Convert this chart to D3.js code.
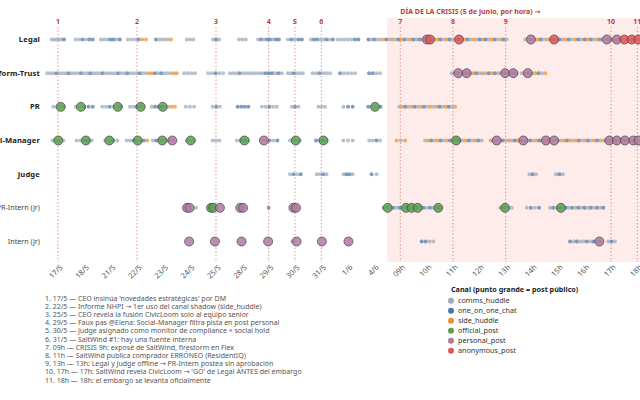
<!DOCTYPE html>
<html>
<head>
<meta charset="utf-8">
<script src="https://cdn.jsdelivr.net/npm/d3@7"></script>
<style>
  body { margin: 0; background: #fff; }
  text { font-family: "Noto Sans", "DejaVu Sans", sans-serif; }
</style>
</head>
<body>
<script>
var w = 640;
var h = 400;

// x slots: days before the crisis, then hours on 5 June
var slots = ["17/5","18/5","21/5","22/5","23/5","24/5","25/5","28/5","29/5","30/5","31/5","1/6","4/6",
             "09h","10h","11h","12h","13h","14h","15h","16h","17h","18h"];
var rows = ["Legal","Platform-Trust","PR","Social-Manager","Judge","PR-Intern (jr)","Intern (jr)"];
var juniors = ["PR-Intern (jr)","Intern (jr)"];

var channels = ["comms_huddle","one_on_one_chat","side_huddle","official_post","personal_post","anonymous_post"];
var channelCodes = ["c","o","s","f","p","a"];
var channelColors = ["#9ea9b9","#4e79a7","#f28e2b","#59a14f","#b07aa1","#e15759"];

// milestone: slot index + note
var eventSlots = [0, 3, 6, 8, 9, 10, 13, 15, 17, 21, 22];
var eventNotes = [
  "17/5 — CEO insinúa 'novedades estratégicas' por DM",
  "22/5 — Informe NHPI → 1er uso del canal shadow (side_huddle)",
  "25/5 — CEO revela la fusión CivicLoom solo al equipo senior",
  "29/5 — Faux pas @Elena: Social-Manager filtra pista en post personal",
  "30/5 — Judge asignado como monitor de compliance + social hold",
  "31/5 — SaltWind #1: hay una fuente interna",
  "09h — CRISIS 9h: exposé de SaltWind, firestorm en Flex",
  "11h — SaltWind publica comprador ERRÓNEO (ResidentIQ)",
  "13h — 13h: Legal y Judge offline → PR-Intern postea sin aprobación",
  "17h — 17h: SaltWind revela CivicLoom → 'GO' de Legal ANTES del embargo",
  "18h — 18h: el embargo se levanta oficialmente"
];

// private chatter: [from slot, to slot, one code per message in order]
var legalChat = [
  [-0.24, 0.23, "ccccco"], [0.67, 1.32, "ccocoo"], [1.63, 2.35, "cccooco"], [2.65, 3.34, "cccoss"],
  [3.72, 4.29, "occccs"], [4.89, 5.14, "ccc"], [5.89, 6.12, "coc"], [6.87, 7.13, "ccc"],
  [7.6, 8.39, "cocoocoo"], [8.73, 9.26, "cocoo"], [9.6, 10.44, "cooccoco"], [10.62, 11.41, "cccccoo"],
  [11.79, 17.04, "ococcsocscosocsocoscsocsocsocsocsocscosocsocsoc"],
  [17.74, 19.76, "csocsocscosocsocso"], [19.89, 22.1, "cosocsocsocsoscsocso"]
];
var platformChat = [
  [-0.41, 4.51, "cccocccocccoccocccoccccoccocccoccssococccss"], [4.79, 5.2, "cccc"], [5.7, 6.27, "ccocc"],
  [6.53, 8.5, "cccocccccccooococ"], [8.73, 9.3, "ccoccc"], [9.67, 10.33, "ccoccc"], [10.71, 11.28, "occcc"],
  [11.81, 12.23, "oocc"], [14.95, 17.42, "csocsocsocscosocsocsoc"], [17.61, 18.5, "csocsocs"]
];
var prChat = [
  [-0.18, 0.23, "cccc"], [0.68, 1.32, "ccooo"], [1.68, 2.39, "ccocco"], [2.73, 3.24, "ccocs"],
  [3.56, 4.44, "coooccss"], [4.85, 5.17, "ccc"], [5.87, 6.15, "coc"], [6.82, 7.23, "oooo"],
  [7.74, 8.31, "ccocc"], [8.88, 9.13, "coc"], [9.89, 10.14, "ccc"], [10.84, 11.19, "coo"],
  [11.78, 12.25, "occo"], [12.96, 15.08, "csocsocsocscsocsocs"]
];
var socialChat = [
  [-0.2, 0.2, "cccc"], [0.71, 1.28, "ccooc"], [1.79, 2.25, "ccoc"], [2.61, 3.39, "ccoccos"],
  [3.6, 4.38, "cocccoc"], [4.89, 5.17, "ccc"], [5.87, 6.13, "ccc"], [6.79, 7.23, "cooc"],
  [7.74, 8.33, "ccoco"], [8.81, 9.19, "cccc"], [9.8, 10.2, "ococ"], [10.84, 11.19, "ccc"],
  [11.82, 12.23, "ccoc"], [12.86, 13.18, "scs"], [13.94, 16.09, "csocsocsocsocsocsoc"],
  [16.43, 22.1, "socsocscosocsocsocsocsocsoscsocsocsocsocsocsocsocs"]
];
var judgeChat = [
  [8.81, 9.22, "coco"], [9.83, 10.2, "ccoc"], [10.84, 11.19, "cooc"], [11.91, 12.1, "oc"],
  [17.9, 18.15, "coc"], [18.91, 19.17, "coc"]
];
var prInternChat = [
  [5.0, 5.24, "cc"], [8.0, 8.0, "o"], [12.35, 14.51, "cococococoocococoo"], [16.79, 17.23, "cocc"],
  [17.8, 18.27, "coco"], [18.69, 20.71, "cococococococococo"]
];
var internChat = [
  [8.9, 8.9, "c"], [13.81, 14.25, "oocc"], [19.45, 20.59, "ococcococo"], [20.9, 21.15, "coc"]
];

// public posts (big dots): [slot, code]
var legalPosts = [[14.01,"p"],[14.13,"a"],[15.23,"a"],[17.96,"p"],[18.84,"a"],[20.84,"p"],[21.22,"p"],[21.51,"a"],[21.79,"a"],[22.04,"a"]];
var platformPosts = [[15.2,"p"],[15.52,"p"],[16.98,"p"],[17.29,"p"],[17.84,"p"]];
var prPosts = [[0.1,"f"],[0.87,"f"],[2.27,"f"],[3.14,"f"],[3.98,"f"],[12.04,"f"]];
var socialPosts = [[0.01,"f"],[1.06,"f"],[1.95,"f"],[3.03,"f"],[3.96,"f"],[4.34,"p"],[5.04,"f"],[7.08,"f"],[7.82,"p"],
  [9.03,"f"],[10.08,"f"],[15.12,"f"],[16.66,"p"],[17.67,"p"],[18.53,"p"],[18.84,"p"],[20.94,"p"],[21.22,"p"],
  [21.53,"p"],[21.85,"p"],[22.05,"p"]];
var judgePosts = [];
var prInternPosts = [[4.9,"p"],[5.0,"p"],[5.81,"f"],[5.9,"f"],[6.15,"p"],[6.92,"p"],[7.03,"p"],[8.94,"p"],[9.04,"p"],
  [12.52,"f"],[13.21,"f"],[13.43,"f"],[13.66,"f"],[14.44,"f"],[16.98,"f"],[19.1,"f"]];
var internPosts = [[4.98,"p"],[5.96,"p"],[6.97,"p"],[7.98,"p"],[9.06,"p"],[10.02,"p"],[11.03,"p"],[20.56,"p"]];

var chatByRow = [legalChat, platformChat, prChat, socialChat, judgeChat, prInternChat, internChat];
var postsByRow = [legalPosts, platformPosts, prPosts, socialPosts, judgePosts, prInternPosts, internPosts];

var x = d3.scaleLinear().domain([0, 22]).range([58, 637.3]);
var y = d3.scalePoint().domain(rows).range([39.5, 241.5]);
var color = d3.scaleOrdinal().domain(channelCodes).range(channelColors);

var svg = d3.select("body").append("svg")
  .attr("width", w)
  .attr("height", h);

// crisis band
svg.append("rect")
  .attr("x", x(12.5))
  .attr("y", 18)
  .attr("width", x(22.5) - x(12.5) + 20)
  .attr("height", 244)
  .attr("fill", "#fdecea");

svg.append("text")
  .attr("x", x(13))
  .attr("y", 14)
  .attr("font-size", 7)
  .attr("font-weight", "bold")
  .attr("fill", "#b8403a")
  .text("DÍA DE LA CRISIS (5 de junio, por hora) →");

// milestones
svg.selectAll(".evline")
  .data(eventSlots)
  .enter().append("line")
  .attr("class", "evline")
  .attr("x1", function(d) { return x(d); })
  .attr("x2", function(d) { return x(d); })
  .attr("y1", 27)
  .attr("y2", 262)
  .attr("stroke", "#e08a86")
  .attr("stroke-width", 0.9)
  .attr("stroke-dasharray", "1.5,2");

svg.selectAll(".evnum")
  .data(eventSlots)
  .enter().append("text")
  .attr("class", "evnum")
  .attr("x", function(d) { return x(d); })
  .attr("y", 24)
  .attr("text-anchor", "middle")
  .attr("font-size", 7)
  .attr("font-weight", "bold")
  .attr("fill", "#b8403a")
  .text(function(d, i) { return i + 1; });

// chatter dots
var small = [];
chatByRow.forEach(function(list, r) {
  list.forEach(function(run) {
    var n = run[2].length;
    for (var k = 0; k < n; k++) {
      var t = n > 1 ? run[0] + (run[1] - run[0]) * k / (n - 1) : run[0];
      small.push({ row: rows[r], t: t, c: run[2][k] });
    }
  });
});

svg.append("g").selectAll("circle")
  .data(small)
  .enter().append("circle")
  .attr("cx", function(d) { return x(d.t); })
  .attr("cy", function(d) { return y(d.row); })
  .attr("r", 2)
  .attr("fill", function(d) { return color(d.c); })
  .attr("fill-opacity", 0.72);

// public posts
var big = [];
postsByRow.forEach(function(list, r) {
  list.forEach(function(p) { big.push({ row: rows[r], t: p[0], c: p[1] }); });
});

svg.append("g").selectAll("circle")
  .data(big)
  .enter().append("circle")
  .attr("cx", function(d) { return x(d.t); })
  .attr("cy", function(d) { return y(d.row); })
  .attr("r", 4.5)
  .attr("fill", function(d) { return color(d.c); })
  .attr("fill-opacity", 0.85)
  .attr("stroke", "#444")
  .attr("stroke-width", 0.7);

// row labels
svg.append("g").selectAll("text")
  .data(rows)
  .enter().append("text")
  .attr("x", 40)
  .attr("y", function(d) { return y(d) + 2.6; })
  .attr("text-anchor", "end")
  .attr("font-size", function(d) { return juniors.indexOf(d) >= 0 ? 7.2 : 7.6; })
  .attr("letter-spacing", function(d) { return juniors.indexOf(d) >= 0 ? 0 : 0.15; })
  .attr("font-weight", function(d) { return juniors.indexOf(d) >= 0 ? "normal" : "bold"; })
  .attr("fill", function(d) { return juniors.indexOf(d) >= 0 ? "#444" : "#222"; })
  .text(function(d) { return d; });

// x axis
var axis = svg.append("g")
  .attr("transform", "translate(0,262)")
  .call(d3.axisBottom(x)
    .tickValues(d3.range(slots.length))
    .tickSize(0)
    .tickFormat(function(d) { return slots[d]; }));
axis.select(".domain").remove();
axis.selectAll("text")
  .attr("font-family", "Noto Sans, sans-serif")
  .attr("font-size", 7.5)
  .attr("fill", "#555")
  .attr("text-anchor", "end")
  .attr("transform", "rotate(-45)")
  .attr("dx", "-0.1em")
  .attr("dy", "0.6em");

// footnotes
svg.append("g").selectAll("text")
  .data(eventNotes)
  .enter().append("text")
  .attr("x", 45)
  .attr("y", function(d, i) { return 300.5 + i * 8.2; })
  .attr("font-size", 7)
  .attr("fill", "#555")
  .text(function(d, i) { return (i + 1) + ". " + d; });

// legend
var lg = svg.append("g").attr("transform", "translate(451,0)");
lg.append("text")
  .attr("x", 0)
  .attr("y", 292)
  .attr("font-size", 7.2)
  .attr("font-weight", "bold")
  .attr("fill", "#222")
  .text("Canal (punto grande = post público)");
lg.selectAll("circle")
  .data(channels)
  .enter().append("circle")
  .attr("cx", 0)
  .attr("cy", function(d, i) { return 300.7 + i * 10; })
  .attr("r", 3)
  .attr("fill", function(d, i) { return channelColors[i]; });
lg.selectAll(".lgtxt")
  .data(channels)
  .enter().append("text")
  .attr("class", "lgtxt")
  .attr("x", 7)
  .attr("y", function(d, i) { return 303.3 + i * 10; })
  .attr("font-size", 7.2)
  .attr("fill", "#333")
  .text(function(d) { return d; });
</script>
</body>
</html>
